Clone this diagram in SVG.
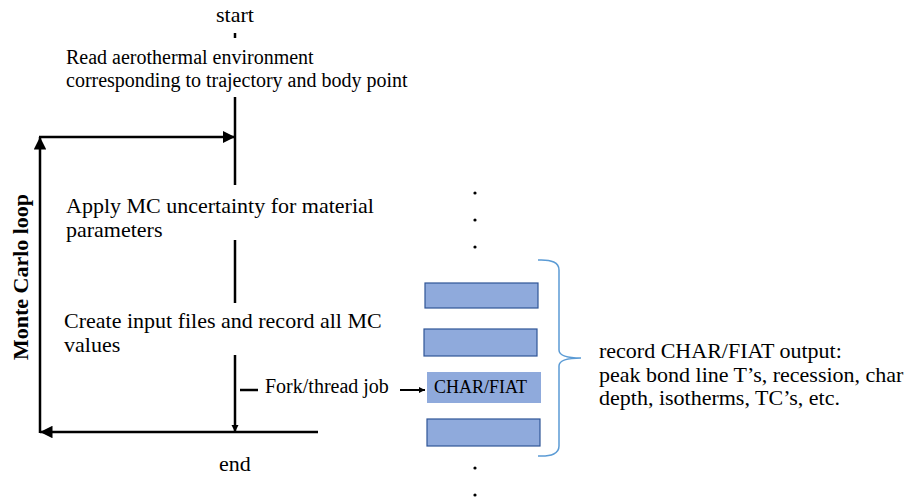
<svg xmlns="http://www.w3.org/2000/svg" width="907" height="499" viewBox="0 0 907 499" font-family="'Liberation Serif', 'Times New Roman', serif">
<defs>
<marker id="ah" viewBox="0 0 10 10" refX="10" refY="5" markerWidth="5" markerHeight="5" orient="auto" markerUnits="strokeWidth">
<path d="M0,0 L10,5 L0,10 z" fill="#000"/>
</marker>
<marker id="ahs" viewBox="0 0 10 10" refX="10" refY="5" markerWidth="3" markerHeight="3" orient="auto" markerUnits="strokeWidth">
<path d="M0,0 L10,5 L0,10 z" fill="#000"/>
</marker>
</defs>
<style>
.s18{font-size:18px}
.s20{font-size:20px}
.s22{font-size:22px}
.ln{stroke:#000;stroke-width:2.5;fill:none}
.box{fill:#8FAADC;stroke:#2F5597;stroke-width:1.2}
.dot{fill:#000}
</style>
<rect width="907" height="499" fill="#fff"/>
<g id="connectors">
<line class="ln" x1="235" y1="33" x2="235" y2="38"/>
<line class="ln" x1="235" y1="97" x2="235" y2="185"/>
<line class="ln" x1="235" y1="240" x2="235" y2="303"/>
<line class="ln" x1="235" y1="355" x2="235" y2="432" marker-end="url(#ahs)"/>
<line class="ln" x1="318" y1="432" x2="40" y2="432" marker-end="url(#ah)"/>
<line class="ln" x1="40" y1="433" x2="40" y2="137" marker-end="url(#ah)"/>
<line class="ln" x1="39" y1="137" x2="235" y2="137" marker-end="url(#ah)"/>
<line class="ln" x1="240" y1="390" x2="258" y2="390"/>
<line class="ln" x1="400" y1="390" x2="425" y2="390" marker-end="url(#ahs)" style="stroke-width:2"/>
<path d="M538,260 Q559,259 559,270 L559,350 Q559,358 581,358 Q559,358 559,366 L559,446 Q559,457 538,456" fill="none" stroke="#5B9BD5" stroke-width="1.5"/>
</g>
<g id="start"><text class="s22" x="235" y="22" text-anchor="middle">start</text></g>
<g id="read"><text class="s20" x="66" y="64">Read aerothermal environment</text><text class="s20" x="66" y="87">corresponding to trajectory and body point</text></g>
<g id="apply"><text class="s22" x="66" y="213">Apply MC uncertainty for material</text><text class="s22" x="66" y="237">parameters</text></g>
<g id="create"><text class="s22" x="64" y="328">Create input files and record all MC</text><text class="s22" x="64" y="352">values</text></g>
<g id="fork"><text class="s20" x="265" y="393">Fork/thread job</text></g>
<g id="end"><text class="s22" x="235" y="471" text-anchor="middle">end</text></g>
<g id="loop"><text x="28" y="277" text-anchor="middle" transform="rotate(-90 28 277)" style="font-size:22px;font-weight:bold">Monte Carlo loop</text></g>
<g id="box1"><rect class="box" x="425" y="283" width="113" height="25"/></g>
<g id="box2"><rect class="box" x="424" y="329" width="113" height="27"/></g>
<g id="box3"><rect x="427" y="372" width="114" height="31" fill="#8FAADC"/><text class="s18" x="434" y="393">CHAR/FIAT</text></g>
<g id="box4"><rect class="box" x="427" y="419" width="113" height="27"/></g>
<g id="dots">
<circle class="dot" cx="475" cy="193" r="1.6"/>
<circle class="dot" cx="475" cy="220" r="1.6"/>
<circle class="dot" cx="475" cy="247" r="1.6"/>
<circle class="dot" cx="475" cy="468" r="1.6"/>
<circle class="dot" cx="475" cy="495" r="1.6"/>
</g>
<g id="output"><text class="s22" x="599" y="358">record CHAR/FIAT output:</text><text class="s22" x="599" y="382">peak bond line T’s, recession, char</text><text class="s22" x="599" y="405">depth, isotherms, TC’s, etc.</text></g>
</svg>
